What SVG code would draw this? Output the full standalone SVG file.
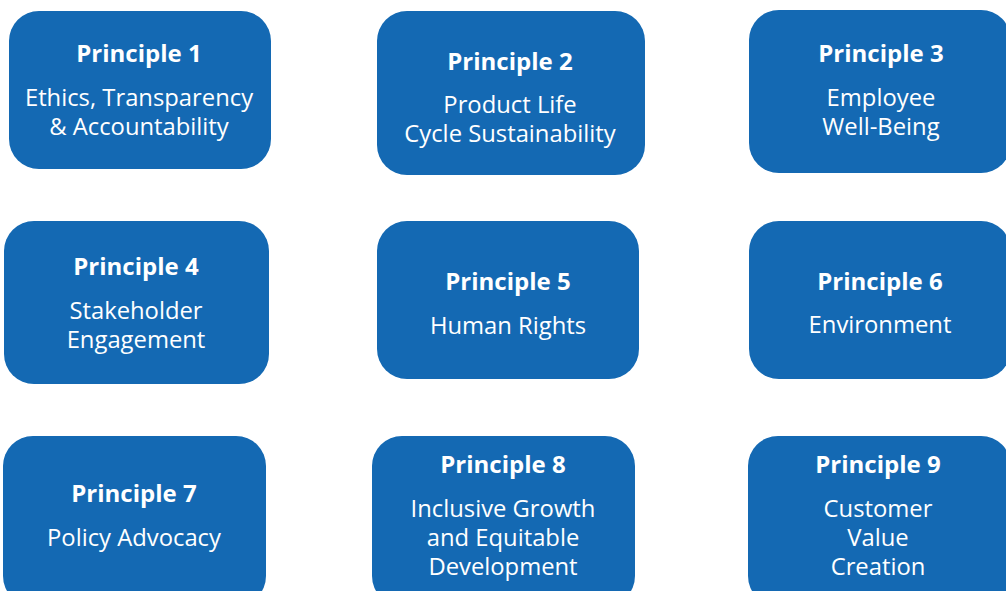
<svg xmlns="http://www.w3.org/2000/svg" width="1006" height="591" viewBox="0 0 1006 591">
<style>
.box{fill:#1469b3}
.t{font-family:"Open Sans","Liberation Sans",sans-serif;fill:#fff;text-anchor:middle}
.h{font-weight:bold;font-size:24px}
.s{font-size:23.8px}
</style>
<rect width="1006" height="591" fill="#fff"/>
<g id="connectors"></g>
<g id="p1"><rect class="box" x="9" y="11" width="262" height="158" rx="30"/>
<text class="t h" x="139" y="62">Principle 1</text>
<text class="t s" x="139" y="106">Ethics, Transparency</text>
<text class="t s" x="139" y="135">&amp; Accountability</text></g>
<g id="p2"><rect class="box" x="377" y="11" width="268" height="164" rx="30"/>
<text class="t h" x="510" y="70">Principle 2</text>
<text class="t s" x="510" y="113">Product Life</text>
<text class="t s" x="510" y="142">Cycle Sustainability</text></g>
<g id="p3"><rect class="box" x="749" y="10" width="262" height="163" rx="30"/>
<text class="t h" x="881" y="62">Principle 3</text>
<text class="t s" x="881" y="106">Employee</text>
<text class="t s" x="881" y="135">Well-Being</text></g>
<g id="p4"><rect class="box" x="4" y="221" width="265" height="163" rx="30"/>
<text class="t h" x="136" y="275">Principle 4</text>
<text class="t s" x="136" y="319">Stakeholder</text>
<text class="t s" x="136" y="348">Engagement</text></g>
<g id="p5"><rect class="box" x="377" y="221" width="262" height="158" rx="30"/>
<text class="t h" x="508" y="290">Principle 5</text>
<text class="t s" x="508" y="334">Human Rights</text></g>
<g id="p6"><rect class="box" x="749" y="221" width="262" height="158" rx="30"/>
<text class="t h" x="880" y="290">Principle 6</text>
<text class="t s" x="880" y="333">Environment</text></g>
<g id="p7"><rect class="box" x="3" y="436" width="263" height="170" rx="30"/>
<text class="t h" x="134" y="502">Principle 7</text>
<text class="t s" x="134" y="546">Policy Advocacy</text></g>
<g id="p8"><rect class="box" x="372" y="436" width="263" height="170" rx="30"/>
<text class="t h" x="503" y="473">Principle 8</text>
<text class="t s" x="503" y="517">Inclusive Growth</text>
<text class="t s" x="503" y="546">and Equitable</text>
<text class="t s" x="503" y="575">Development</text></g>
<g id="p9"><rect class="box" x="748" y="436" width="263" height="170" rx="30"/>
<text class="t h" x="878" y="473">Principle 9</text>
<text class="t s" x="878" y="517">Customer</text>
<text class="t s" x="878" y="546">Value</text>
<text class="t s" x="878" y="575">Creation</text></g>
</svg>
